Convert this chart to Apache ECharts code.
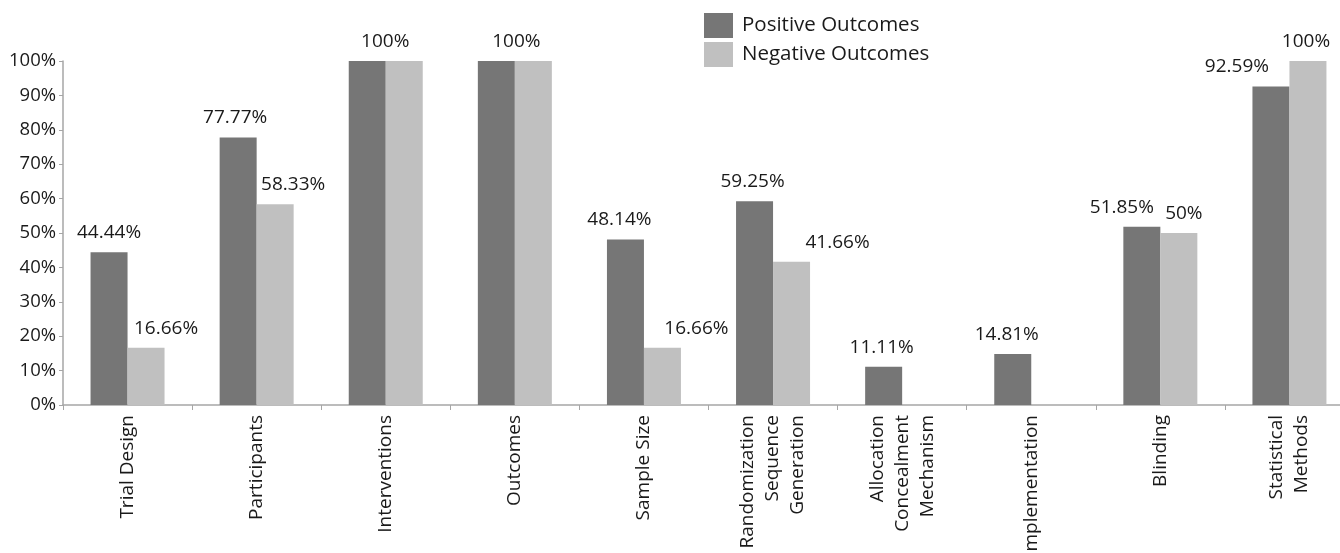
<!DOCTYPE html>
<html>
<head>
<meta charset="utf-8">
<script src="https://cdn.jsdelivr.net/npm/echarts@6/dist/echarts.min.js"></script>
<style>
html, body { margin: 0; padding: 0; background: #fff; }
#chart { width: 1340px; height: 553px; }
</style>
</head>
<body>
<div id="chart"></div>
<script>
const categories = ['Trial Design', 'Participants', 'Interventions', 'Outcomes', 'Sample Size',
	'Randomization\nSequence\nGeneration', 'Allocation\nConcealment\nMechanism', 'Implementation',
	'Blinding', 'Statistical\nMethods'];
const positiveValues = [44.44, 77.77, 100, 100, 48.14, 59.25, 11.11, 14.81, 51.85, 92.59];
const negativeValues = [16.66, 58.33, 100, 100, 16.66, 41.66, 0, 0, 50, 100];
const yTicks = [0, 10, 20, 30, 40, 50, 60, 70, 80, 90, 100];

// label nudges (x px), as placed in the original picture; null = no label
const posLabelDx = [0, -3, 18, 20, -6, -2, -2, -6, -20, -34];
const negLabelDx = [20, 18, null, null, 34, 46, null, null, 5, -2];

const font = 'Open Sans';
const textColor = '#1a1a1a';

function barData(values, nudges) {
	return values.map(function (v, i) {
		const dx = nudges[i];
		return {
			value: v,
			label: { show: dx !== null, offset: [dx || 0, 0] }
		};
	});
}

const myChart = echarts.init(document.getElementById('chart'));
const option = {
	animation: false,
	textStyle: { fontFamily: font, color: textColor },
	legend: {
		orient: 'vertical',
		left: 699,
		top: 8,
		itemWidth: 29,
		itemHeight: 25,
		itemGap: 4,
		icon: 'rect',
		textStyle: { fontFamily: font, fontSize: 20.5, color: textColor, padding: [2, 0, 0, 4] },
		data: ['Positive Outcomes', 'Negative Outcomes']
	},
	grid: {
		left: 63,
		top: 61,
		bottom: 148,
		right: -14,
		containLabel: false,
		outerBoundsMode: 'none'
	},
	xAxis: {
		type: 'category',
		data: categories,
		axisLine: { lineStyle: { color: '#a6a6a6', width: 1.5 } },
		axisTick: { show: true, length: 5, lineStyle: { color: '#a6a6a6' } },
		axisLabel: {
			interval: 0,
			rotate: 90,
			margin: 10,
			fontFamily: font,
			fontSize: 19,
			lineHeight: 25,
			color: textColor
		}
	},
	yAxis: {
		type: 'value',
		min: yTicks[0],
		max: yTicks[yTicks.length - 1],
		interval: 10,
		splitLine: { show: false },
		axisLine: { show: true, lineStyle: { color: '#a6a6a6', width: 1.5 } },
		axisTick: { show: true, length: 4, lineStyle: { color: '#a6a6a6' } },
		axisLabel: {
			formatter: '{value}%',
			margin: 7,
			fontFamily: font,
			fontSize: 18.5,
			color: textColor
		}
	},
	series: [
		{
			name: 'Positive Outcomes',
			type: 'bar',
			barWidth: 37,
			barGap: '0%',
			itemStyle: { color: '#767676' },
			label: {
				position: 'top',
				distance: 10,
				fontFamily: font,
				fontSize: 19,
				lineHeight: 19,
				color: textColor,
				formatter: function (p) { return p.value + '%'; }
			},
			data: barData(positiveValues, posLabelDx)
		},
		{
			name: 'Negative Outcomes',
			type: 'bar',
			barWidth: 37,
			barGap: '0%',
			itemStyle: { color: '#c0c0c0' },
			label: {
				position: 'top',
				distance: 10,
				fontFamily: font,
				fontSize: 19,
				lineHeight: 19,
				color: textColor,
				formatter: function (p) { return p.value + '%'; }
			},
			data: barData(negativeValues, negLabelDx)
		}
	]
};
myChart.setOption(option);
</script>
</body>
</html>
